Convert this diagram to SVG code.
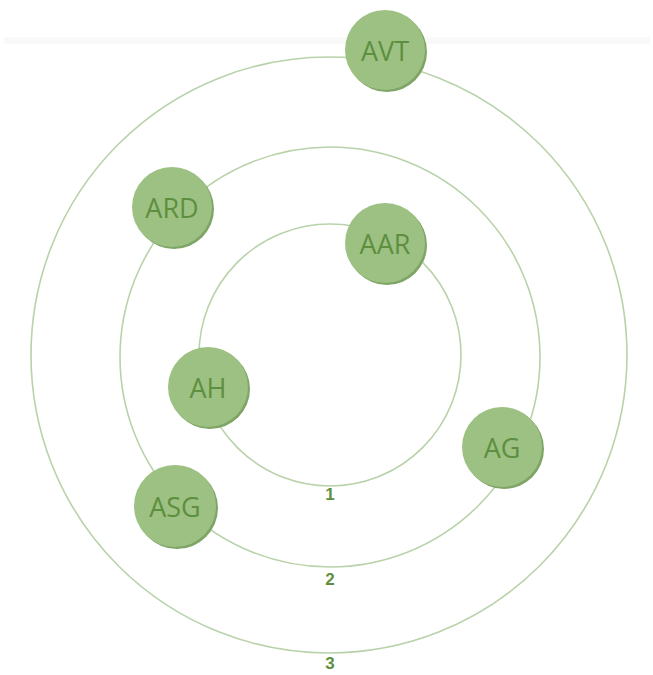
<svg xmlns="http://www.w3.org/2000/svg" width="653" height="675" viewBox="0 0 653 675">
<defs>
<style>
.ring{fill:none;stroke:#b9d2aa;stroke-width:1.6}
.node{fill:#9dc183}
.shadow{fill:#7fa566}
.lbl{font-family:"Open Sans","Liberation Sans",sans-serif;font-size:27px;fill:#5e8f3e;text-anchor:middle;dominant-baseline:central}
.num{font-family:"Liberation Sans",sans-serif;font-size:17px;font-weight:bold;fill:#5e8f3e;text-anchor:middle}
</style>
</defs>
<rect width="653" height="675" fill="#ffffff"/>
<rect x="4" y="37" width="646" height="7" fill="#f9f9f9"/>
<g id="connectors">
<circle class="ring" cx="329" cy="355" r="298"/>
<circle class="ring" cx="330" cy="357" r="210"/>
<circle class="ring" cx="330" cy="355" r="131"/>
</g>
<g id="ring-labels">
<text class="num" x="330" y="500">1</text>
<text class="num" x="330" y="585">2</text>
<text class="num" x="330" y="669">3</text>
</g>
<g id="AVT"><circle class="shadow" cx="387" cy="52" r="40"/><circle class="node" cx="385" cy="50" r="40"/><text class="lbl" x="385" y="50">AVT</text></g>
<g id="ARD"><circle class="shadow" cx="174" cy="209" r="40"/><circle class="node" cx="172" cy="207" r="40"/><text class="lbl" x="172" y="207">ARD</text></g>
<g id="AAR"><circle class="shadow" cx="387" cy="245" r="40"/><circle class="node" cx="385" cy="243" r="40"/><text class="lbl" x="385" y="243">AAR</text></g>
<g id="AH"><circle class="shadow" cx="210" cy="389" r="40"/><circle class="node" cx="208" cy="387" r="40"/><text class="lbl" x="208" y="387">AH</text></g>
<g id="AG"><circle class="shadow" cx="504" cy="449" r="40"/><circle class="node" cx="502" cy="447" r="40"/><text class="lbl" x="502" y="447">AG</text></g>
<g id="ASG"><circle class="shadow" cx="177" cy="508" r="41"/><circle class="node" cx="175" cy="506" r="41"/><text class="lbl" x="175" y="506">ASG</text></g>
</svg>
